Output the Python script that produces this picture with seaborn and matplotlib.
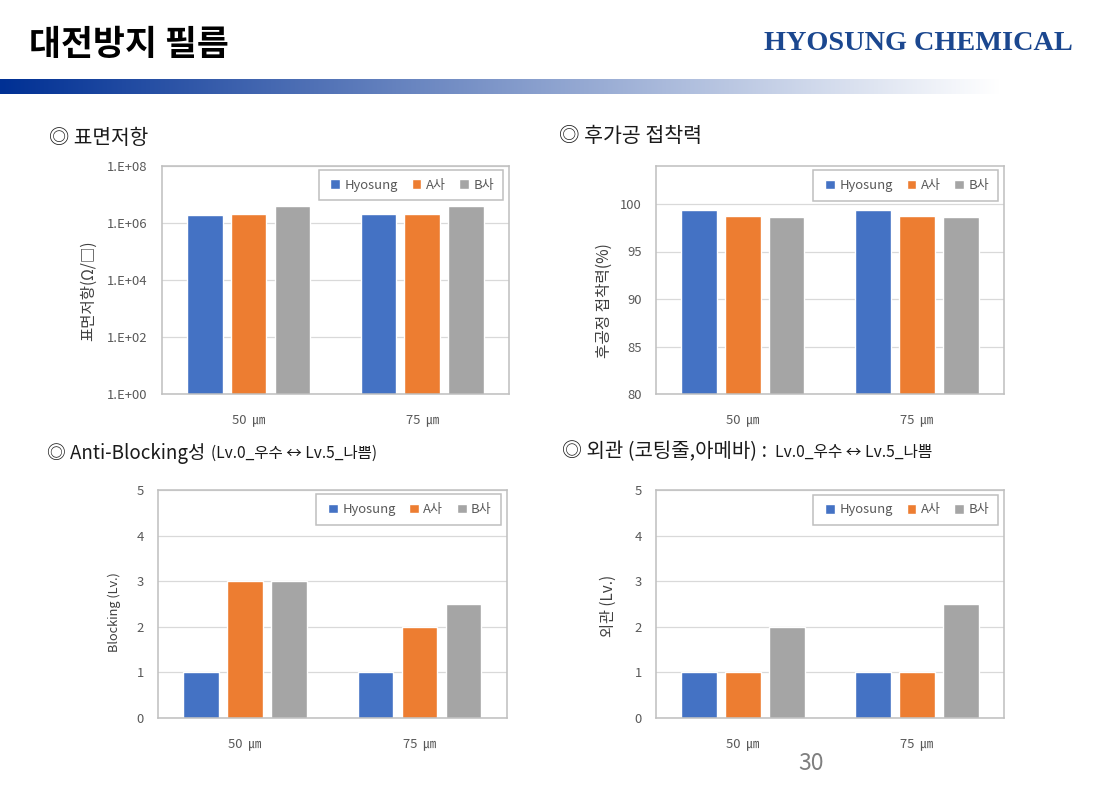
import numpy as np
import pandas as pd
import seaborn as sns
import matplotlib
matplotlib.use("Agg")
import matplotlib.pyplot as plt
from matplotlib.patches import Rectangle

W, H = 1100, 798

# ---- data ----
thickness = ["50  ㎛", "75  ㎛"]
makers = ["Hyosung", "A사", "B사"]
colors = ["#4472C4", "#ED7D31", "#A5A5A5"]

resist_hyosung = [1.85e6, 2.05e6]
resist_a = [2.05e6, 2.15e6]
resist_b = [3.9e6, 4.1e6]

adhesion_hyosung = [99.4, 99.4]
adhesion_a = [98.7, 98.7]
adhesion_b = [98.6, 98.6]

blocking_hyosung = [1, 1]
blocking_a = [3, 2]
blocking_b = [3, 2.5]

appearance_hyosung = [1, 1]
appearance_a = [1, 1]
appearance_b = [2, 2.5]

sns.set_theme(style="white")
plt.rcParams["font.family"] = ["Noto Sans CJK KR", "DejaVu Sans"]

fig = plt.figure(figsize=(W / 100, H / 100), dpi=100, facecolor="white")


def frame(v1, v2, v3):
    return pd.DataFrame({
        "t": thickness * 3,
        "m": [makers[0]] * 2 + [makers[1]] * 2 + [makers[2]] * 2,
        "v": list(v1) + list(v2) + list(v3),
    })


def chart(box, legend_box, series, ylim, yticks, ylabels, ylabel, label_xy, label_size, log=False):
    x0, y0, x1, y1 = box
    bw, bh = x1 - x0, y1 - y0
    ax = fig.add_axes([x0 / W, 1 - y1 / H, bw / W, bh / H])
    if log:
        ax.set_yscale("log")
    sns.barplot(data=frame(*series), x="t", y="v", hue="m", hue_order=makers,
                palette=colors, width=0.755, gap=0.19, saturation=1,
                ax=ax, errorbar=None)
    ax.set_xlim(-0.5, 1.5)
    ax.set_ylim(*ylim)
    ax.set_yticks(yticks, ylabels)
    ax.minorticks_off()
    ax.set_axisbelow(True)
    ax.grid(axis="y", color="#d9d9d9", lw=0.9)
    ax.grid(axis="x", visible=False)
    for s in ax.spines.values():
        s.set_visible(True)
        s.set_color("#bfbfbf")
        s.set_linewidth(1.1)
    ax.tick_params(axis="y", length=0, pad=10, labelsize=9.4, labelcolor="#595959")
    ax.tick_params(axis="x", length=0, pad=14, labelsize=9.4, labelcolor="#595959")
    ax.set_xlabel("")
    ax.set_ylabel(ylabel, fontsize=label_size, color="#404040")
    ax.yaxis.set_label_coords((label_xy[0] - x0) / bw, (y1 - label_xy[1]) / bh)
    lx0, ly0, lx1, ly1 = legend_box
    ax.add_patch(Rectangle(((lx0 - x0) / bw, (y1 - ly1) / bh), (lx1 - lx0) / bw, (ly1 - ly0) / bh,
                           transform=ax.transAxes, facecolor="white", edgecolor="#bfbfbf",
                           lw=1.1, zorder=4))
    h, l = ax.get_legend_handles_labels()
    leg = ax.legend(h, l, ncol=3, loc="center right",
                    bbox_to_anchor=((lx1 - 9 - x0) / bw, (y1 - (ly0 + ly1) / 2) / bh),
                    frameon=False, fontsize=9.4, handlelength=0.75, handleheight=0.75,
                    handletextpad=0.33, columnspacing=1.05, borderpad=0,
                    borderaxespad=0, labelcolor="#595959")
    leg.set_zorder(5)
    return ax


chart((161.7, 166, 509, 394), (319, 170, 503, 200),
      (resist_hyosung, resist_a, resist_b), (1, 1e8),
      [1, 1e2, 1e4, 1e6, 1e8], ["1.E+00", "1.E+02", "1.E+04", "1.E+06", "1.E+08"],
      "표면저항(Ω/□)", (97, 291), 11.2, log=True)
chart((655.7, 166, 1004, 394), (812.7, 170, 998, 201),
      (adhesion_hyosung, adhesion_a, adhesion_b), (80, 104),
      [80, 85, 90, 95, 100], ["80", "85", "90", "95", "100"],
      "후공정 접착력(%)", (613, 301), 11.3)
chart((157.7, 490, 506.7, 718), (315.7, 494, 500.7, 525),
      (blocking_hyosung, blocking_a, blocking_b), (0, 5),
      [0, 1, 2, 3, 4, 5], ["0", "1", "2", "3", "4", "5"],
      "Blocking (Lv.)", (121, 612), 9.2)
chart((656, 490, 1004, 718), (813, 495, 998, 525),
      (appearance_hyosung, appearance_a, appearance_b), (0, 5),
      [0, 1, 2, 3, 4, 5], ["0", "1", "2", "3", "4", "5"],
      "외관 (Lv.)", (617, 606), 11)


def px_text(x, y, s, **kw):
    return fig.text(x / W, 1 - y / H, s, va="center", **kw)


# slide decoration
band = fig.add_axes([0, 1 - 94.5 / H, 1000 / W, 15.5 / H])
grad = np.linspace(0, 1, 500)[None, :, None]
start = np.array([0, 48, 148]) / 255
band.imshow(start + (1 - start) * grad, aspect="auto", interpolation="bilinear")
band.axis("off")

px_text(29, 44, "대전방지 필름", fontsize=25, fontweight="bold", color="black")
px_text(1073, 43, "HYOSUNG CHEMICAL", fontsize=20.3, fontweight="bold", ha="right",
        color="#1B478F", family=["Liberation Serif"])
px_text(49, 138, "◎ 표면저항", fontsize=14.6, color="#1a1a1a")
px_text(559, 136, "◎ 후가공 접착력", fontsize=14.8, color="#1a1a1a")
px_text(47, 453, "◎ Anti-Blocking성", fontsize=13.5, color="#1a1a1a")
px_text(211, 453, "(Lv.0_우수 ↔ Lv.5_나쁨)", fontsize=11.2, color="#1a1a1a")
px_text(562, 452, "◎ 외관 (코팅줄,아메바) :", fontsize=14.4, color="#1a1a1a")
px_text(775, 452, "Lv.0_우수 ↔ Lv.5_나쁨", fontsize=11.3, color="#1a1a1a")
px_text(811, 763, "30", fontsize=16.5, ha="center", color="#7f7f7f")

fig.savefig("out.png", dpi=100)
